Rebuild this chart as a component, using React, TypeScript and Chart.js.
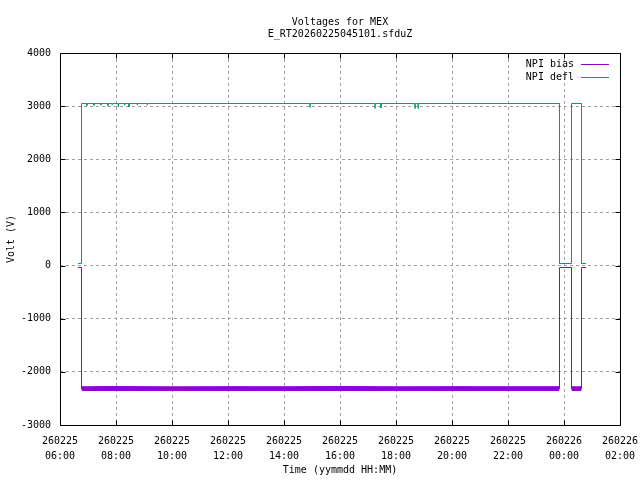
import { useEffect, useRef } from "react";
import { Chart, registerables } from "chart.js";

Chart.register(...registerables);

// ---- data (hours after 260225 06:00) ----
const titleLines = ["Voltages for MEX", "E_RT20260225045101.sfduZ"];
const xTickLabels = [
  ["260225", "06:00"], ["260225", "08:00"], ["260225", "10:00"], ["260225", "12:00"],
  ["260225", "14:00"], ["260225", "16:00"], ["260225", "18:00"], ["260225", "20:00"],
  ["260225", "22:00"], ["260226", "00:00"], ["260226", "02:00"],
];

const biasTimes = [0.64, 0.768, 0.768, 17.839, 17.839, 18.268, 18.268, 18.625, 18.625, 18.79];
const biasValues = [-36, -36, -2320, -2320, -36, -36, -2320, -2320, -36, -36];

const biasBandTimes1 = [0.768, 2.0, 4.0, 6.0, 8.0, 10.0, 12.0, 14.0, 16.0, 17.839];
const biasBandTop1 = [-2280, -2276, -2282, -2278, -2280, -2275, -2281, -2278, -2280, -2279];
const biasBandTimes2 = [18.268, 18.625];
const biasBandTop2 = [-2282, -2280];
const biasBandBottom = -2362;

const deflTimes = [
  0.64, 0.768, 0.768,
  0.95, 0.96, 0.97,
  1.2, 1.21, 1.22,
  1.45, 1.46, 1.47,
  1.7, 1.71, 1.72,
  1.85, 1.86, 1.87,
  2.07, 2.08, 2.09,
  2.3, 2.31, 2.32,
  2.45, 2.46, 2.47,
  2.75, 2.76, 2.77,
  3.1, 3.11, 3.12,
  8.92, 8.93, 8.94,
  11.24, 11.25, 11.26,
  11.45, 11.46, 11.47,
  12.67, 12.68, 12.69,
  12.78, 12.79, 12.8,
  17.839, 17.839, 18.268, 18.268, 18.625, 18.625, 18.79,
];
const deflValues = [
  39, 39, 3050,
  3050, 3010, 3050,
  3050, 3015, 3050,
  3050, 3020, 3050,
  3050, 3010, 3050,
  3050, 3025, 3050,
  3050, 2985, 3050,
  3050, 3020, 3050,
  3050, 2985, 3050,
  3050, 3020, 3050,
  3050, 3025, 3050,
  3050, 2975, 3050,
  3050, 2960, 3050,
  3050, 2965, 3050,
  3050, 2955, 3050,
  3050, 2955, 3050,
  3050, 39, 39, 3050, 3050, 39, 39,
];

const BIAS_COLOR = "#9400d3";
const DEFL_COLOR = "#009e73";
const FONT = "'DejaVu Sans Mono', monospace";

const zip = (xs: number[], ys: number[]) => xs.map((x, i) => ({ x, y: ys[i] }));

export default function App() {
  const ref = useRef<HTMLCanvasElement | null>(null);

  useEffect(() => {
    document.body.style.margin = "0";
    const canvas = ref.current;
    if (!canvas) return;

    const framePlugin = {
      id: "frame",
      afterLayout(chart: any) {
        const t = chart.titleBlock;
        if (t) {
          t.left = chart.chartArea.left;
          t.right = chart.chartArea.right;
        }
      },
      afterDraw(chart: any) {
        const { ctx, chartArea: a, scales } = chart;
        ctx.save();
        ctx.strokeStyle = "#000";
        ctx.lineWidth = 1;
        const L = Math.round(a.left) + 0.5;
        const R = Math.round(a.right) + 0.5;
        const T = Math.round(a.top) + 0.5;
        const B = Math.round(a.bottom) + 0.5;
        ctx.beginPath();
        ctx.rect(L, T, R - L, B - T);
        const tl = 5;
        for (const tk of scales.x.ticks) {
          const px = Math.round(scales.x.getPixelForValue(tk.value)) + 0.5;
          ctx.moveTo(px, B); ctx.lineTo(px, B - tl);
          ctx.moveTo(px, T); ctx.lineTo(px, T + tl);
        }
        for (const tk of scales.y.ticks) {
          const py = Math.round(scales.y.getPixelForValue(tk.value)) + 0.5;
          ctx.moveTo(L, py); ctx.lineTo(L + tl, py);
          ctx.moveTo(R, py); ctx.lineTo(R - tl, py);
        }
        ctx.stroke();

        // key (gnuplot style: text then line sample)
        ctx.font = `10px ${FONT}`;
        ctx.textAlign = "right";
        ctx.textBaseline = "middle";
        const rows = [0, 1];
        rows.forEach((di, r) => {
          const ds = chart.data.datasets[di];
          const y = 64 + r * 13;
          ctx.fillStyle = "#000";
          ctx.fillText(ds.label, 574, y);
          ctx.beginPath();
          ctx.strokeStyle = ds.borderColor;
          ctx.moveTo(581, y + 0.5);
          ctx.lineTo(609, y + 0.5);
          ctx.stroke();
        });
        ctx.restore();
      },
    };

    const gridColor = (c: any) => {
      const s = c.scale;
      if (!c.tick) return "#a0a0a0";
      return c.tick.value === s.min || c.tick.value === s.max ? "rgba(0,0,0,0)" : "#a0a0a0";
    };

    const chart = new Chart(canvas, {
      type: "line",
      data: {
        datasets: [
          {
            label: "NPI bias",
            data: zip(biasTimes, biasValues),
            borderColor: BIAS_COLOR,
            backgroundColor: BIAS_COLOR,
            borderWidth: 1,
            pointRadius: 0,
            fill: false,
            order: 0,
          },
          {
            label: "NPI defl",
            data: zip(deflTimes, deflValues),
            borderColor: DEFL_COLOR,
            backgroundColor: DEFL_COLOR,
            borderWidth: 1,
            pointRadius: 0,
            fill: false,
            order: 1,
          },
          {
            label: "bias band 1",
            data: zip(biasBandTimes1, biasBandTop1),
            borderColor: BIAS_COLOR,
            backgroundColor: BIAS_COLOR,
            borderWidth: 1,
            pointRadius: 0,
            fill: { value: biasBandBottom },
            order: 2,
          },
          {
            label: "bias band 2",
            data: zip(biasBandTimes2, biasBandTop2),
            borderColor: BIAS_COLOR,
            backgroundColor: BIAS_COLOR,
            borderWidth: 1,
            pointRadius: 0,
            fill: { value: biasBandBottom },
            order: 3,
          },
        ],
      },
      options: {
        responsive: false,
        animation: false,
        events: [],
        layout: { padding: { left: 0, right: 20, top: 0, bottom: 0 } },
        font: { family: FONT, size: 10 },
        color: "#000",
        elements: { line: { tension: 0 } },
        plugins: {
          legend: { display: false },
          tooltip: { enabled: false },
          title: {
            display: true,
            text: titleLines,
            color: "#000",
            font: { family: FONT, size: 10, weight: "normal", lineHeight: 1.2 },
            padding: { top: 16, bottom: 13 },
          },
        },
        scales: {
          x: {
            type: "linear",
            min: 0,
            max: 20,
            afterFit: (s: any) => {
              s.height = 55;
              s.paddingLeft = 0;
              s.paddingRight = 0;
            },
            ticks: {
              stepSize: 2,
              autoSkip: false,
              maxRotation: 0,
              padding: 9,
              color: "#000",
              font: { family: FONT, size: 10, lineHeight: 1.5 },
              callback: (_v: any, i: number) => xTickLabels[i],
            },
            grid: { color: gridColor, lineWidth: 1, drawTicks: false },
            border: { display: false, dash: [3, 3] },
            title: {
              display: true,
              text: "Time (yymmdd HH:MM)",
              color: "#000",
              font: { family: FONT, size: 10, lineHeight: 1.2 },
              padding: { top: 0, bottom: 4 },
            },
          },
          y: {
            type: "linear",
            min: -3000,
            max: 4000,
            afterFit: (s: any) => { s.width = 60; },
            ticks: {
              stepSize: 1000,
              padding: 9,
              color: "#000",
              font: { family: FONT, size: 10 },
              callback: (v: any) => String(v),
            },
            grid: { color: gridColor, lineWidth: 1, drawTicks: false },
            border: { display: false, dash: [3, 3] },
            title: {
              display: true,
              text: "Volt (V)",
              color: "#000",
              font: { family: FONT, size: 10, lineHeight: 1.2 },
              padding: { top: 5, bottom: 0 },
            },
          },
        },
      },
      plugins: [framePlugin],
    } as any);

    return () => chart.destroy();
  }, []);

  return (
    <div style={{ position: "absolute", left: 0, top: 0, width: 640, height: 480, background: "#fff" }}>
      <canvas ref={ref} width={640} height={480} />
    </div>
  );
}
